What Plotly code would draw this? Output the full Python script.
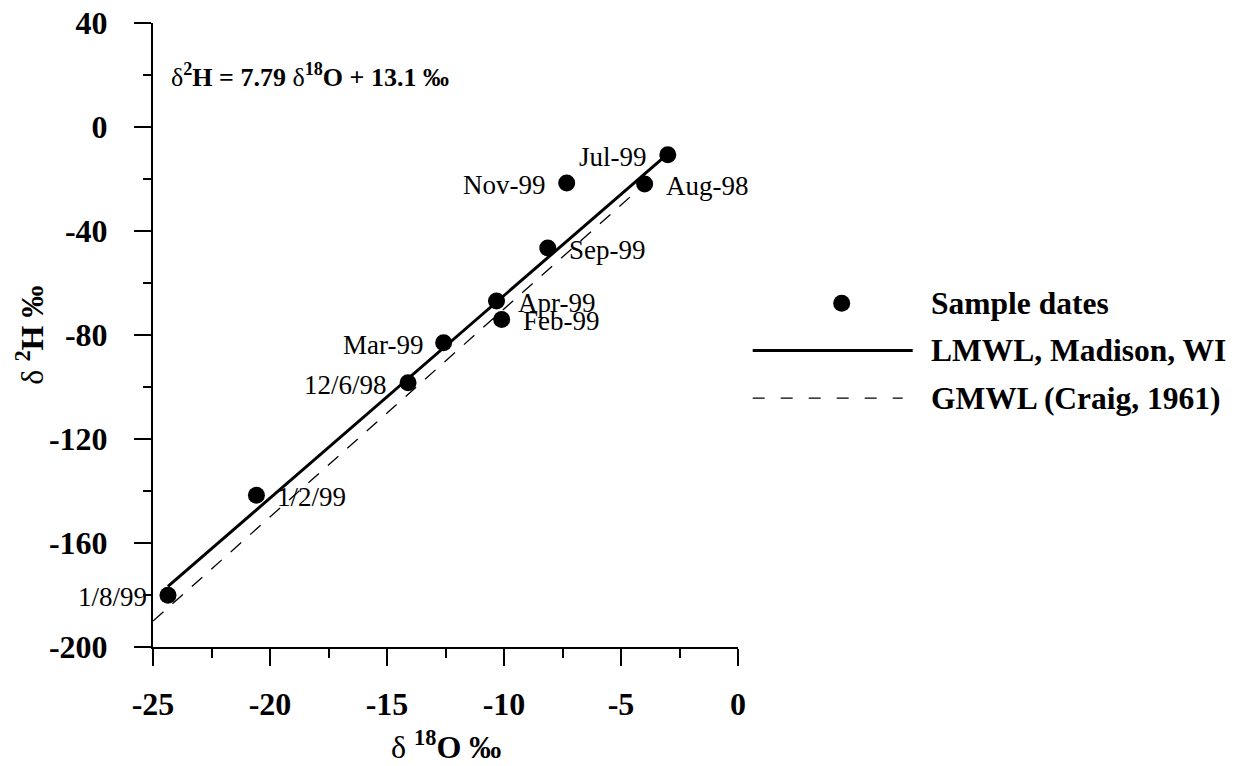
import plotly.graph_objects as go

# ---- data ----
dates = ["Jul-99", "Aug-98", "Nov-99", "Sep-99", "Apr-99", "Feb-99",
         "Mar-99", "12/6/98", "1/2/99", "1/8/99"]
d18O = [-3.00, -3.99, -7.32, -8.13, -10.32, -10.10, -12.58, -14.10, -20.58, -24.36]
d2H = [-10.7, -21.9, -21.5, -46.5, -66.9, -74.0, -83.0, -98.4, -141.6, -180.1]
label_side = ["left", "right", "left", "right", "right", "right",
              "left", "left", "right", "left"]

lmwl_x = [-24.36, -3.00]
lmwl_y = [-176.7, -10.3]
gmwl_x = [-25.0, -4.0]
gmwl_y = [-190.0, -22.0]

x_ticks = [-25, -20, -15, -10, -5, 0]
y_ticks = [40, 0, -40, -80, -120, -160, -200]

legend_names = ["Sample dates", "LMWL, Madison, WI", "GMWL (Craig, 1961)"]

SERIF = "Liberation Serif"

fig = go.Figure()
fig.add_trace(go.Scatter(x=gmwl_x, y=gmwl_y, mode="lines",
                         line=dict(color="black", width=1.3, dash="14px,12px"),
                         showlegend=False, hoverinfo="skip"))
fig.add_trace(go.Scatter(x=lmwl_x, y=lmwl_y, mode="lines",
                         line=dict(color="black", width=3),
                         showlegend=False, hoverinfo="skip"))
fig.add_trace(go.Scatter(x=d18O, y=d2H, mode="markers",
                         marker=dict(color="black", size=17),
                         showlegend=False))

annotations = []
for name, xv, yv, side in zip(dates, d18O, d2H, label_side):
    annotations.append(dict(
        x=xv, y=yv, xref="x", yref="y", text=name, showarrow=False,
        xanchor="right" if side == "left" else "left",
        xshift=-19 if side == "left" else 19, yshift=-2,
        font=dict(family=SERIF, size=27, color="black")))

# axis-pixel helpers for non-data decorations (paper coordinates)
W_PX, H_PX = 585.0, 623.4
def px_x(p):
    return (p - 153.3) / W_PX
def px_y(p):
    return (646.7 - p) / H_PX

# equation
annotations.append(dict(
    x=px_x(169), y=px_y(76), xref="paper", yref="paper", xanchor="left", yanchor="middle",
    showarrow=False,
    text="δ<b><sup>2</sup>H = 7.79 </b>δ<b><sup>18</sup>O + 13.1 ‰</b>",
    font=dict(family=SERIF, size=26, color="black")))

# axis titles
annotations.append(dict(
    x=0.5, y=px_y(745), xref="paper", yref="paper", xanchor="center", yanchor="middle",
    showarrow=False, text="δ <b><sup>18</sup>O ‰</b>",
    font=dict(family=SERIF, size=32, color="black")))
annotations.append(dict(
    x=px_x(30), y=px_y(335), xref="paper", yref="paper", xanchor="center", yanchor="middle",
    showarrow=False, textangle=-90, text="δ <b><sup>2</sup>H ‰</b>",
    font=dict(family=SERIF, size=32, color="black")))

# custom legend
leg_y = [303.3, 350.5, 398.0]
shapes = [
    dict(type="circle", xref="paper", yref="paper", xsizemode="pixel", ysizemode="pixel",
         xanchor=px_x(842), yanchor=px_y(leg_y[0]), x0=-8.5, x1=8.5, y0=-8.5, y1=8.5,
         fillcolor="black", line=dict(color="black", width=0)),
    dict(type="line", xref="paper", yref="paper", x0=px_x(753), x1=px_x(913),
         y0=px_y(leg_y[1]), y1=px_y(leg_y[1]), line=dict(color="black", width=3)),
    dict(type="line", xref="paper", yref="paper", x0=px_x(753), x1=px_x(903),
         y0=px_y(leg_y[2]), y1=px_y(leg_y[2]),
         line=dict(color="black", width=1.3, dash="12px,16px")),
]
for name, ly in zip(legend_names, leg_y):
    annotations.append(dict(
        x=px_x(929), y=px_y(ly), xref="paper", yref="paper", xanchor="left",
        yanchor="middle", showarrow=False, text="<b>%s</b>" % name,
        font=dict(family=SERIF, size=31.5, color="black")))

axis_common = dict(
    showline=True, linecolor="black", linewidth=2, mirror=False, automargin=False,
    showgrid=False, zeroline=False, ticks="outside", ticklen=17, tickwidth=2,
    tickcolor="black",
    tickfont=dict(family=SERIF, size=32, color="black", weight="bold"),
)

fig.update_layout(
    template="none",
    width=1245, height=766,
    margin=dict(l=153, r=507, t=23, b=119, pad=0, autoexpand=False),
    paper_bgcolor="white", plot_bgcolor="white",
    showlegend=False,
    xaxis=dict(range=[-25, 0], tickvals=x_ticks, ticktext=[str(v) for v in x_ticks],
               minor=dict(dtick=2.5, tick0=-25, ticks="outside", ticklen=9,
                          tickwidth=2, tickcolor="black", showgrid=False),
               ticklabelstandoff=11, **axis_common),
    yaxis=dict(range=[-200, 40], tickvals=y_ticks, ticktext=[str(v) for v in y_ticks],
               minor=dict(dtick=20, tick0=0, ticks="outside", ticklen=8,
                          tickwidth=2, tickcolor="black", showgrid=False),
               ticklabelstandoff=20, **axis_common),
    annotations=annotations,
    shapes=shapes,
)

fig.write_html("out.html", config={"displayModeBar": False},
               post_script="document.body.style.margin='0';")
